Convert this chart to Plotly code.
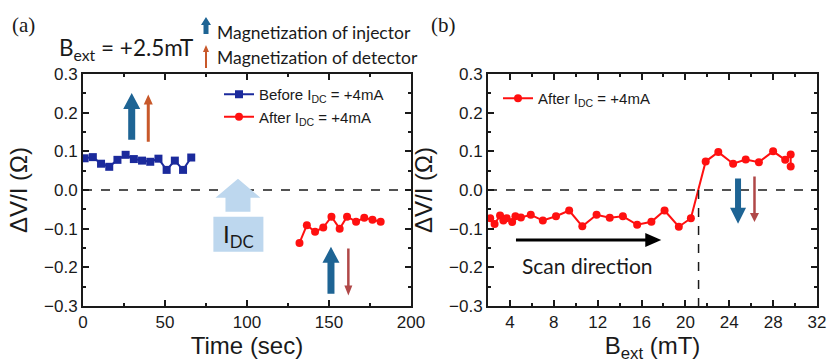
import math
import plotly.graph_objects as go

# ---------------- data ----------------
time_before = [1, 6, 11, 16, 21, 26, 31, 36, 41, 46, 51, 56, 61, 66]
dv_before = [0.082, 0.085, 0.068, 0.060, 0.078, 0.091, 0.080, 0.076, 0.073, 0.081, 0.052, 0.076, 0.052, 0.084]

time_after = [132, 136.5, 141.5, 146.5, 151.5, 156.5, 161, 166.5, 171.5, 176.5, 181.5]
dv_after = [-0.137, -0.091, -0.108, -0.097, -0.069, -0.100, -0.069, -0.082, -0.072, -0.077, -0.082]

b_scan = [2.2, 2.6, 3.1, 3.4, 3.7, 4.2, 4.5, 5.0, 5.9, 7.0, 8.2, 9.4, 10.6, 11.9, 13.1, 14.3,
          15.6, 16.9, 18.1, 19.4, 20.5, 21.85, 23.0, 24.35, 25.5, 26.7, 28.0, 29.1, 29.6, 29.6]
dv_scan = [-0.073, -0.088, -0.066, -0.079, -0.073, -0.083, -0.068, -0.071, -0.064, -0.079, -0.068,
           -0.053, -0.094, -0.064, -0.072, -0.068, -0.090, -0.082, -0.053, -0.095, -0.073,
           0.074, 0.098, 0.068, 0.079, 0.072, 0.100, 0.078, 0.092, 0.061]

switch_field = 21.2

# ---------------- layout geometry ----------------
W, H = 828, 364
xdom1 = [83 / W, 411 / W]
xdom2 = [488 / W, 817 / W]
ydom = [1 - 306 / H, 1 - 74 / H]
xr1, xr2, yr = [0, 200], [2, 32], [-0.3, 0.3]

# data units per pixel
sx1 = (xr1[1] - xr1[0]) / ((xdom1[1] - xdom1[0]) * W)
sx2 = (xr2[1] - xr2[0]) / ((xdom2[1] - xdom2[0]) * W)
sy = (yr[1] - yr[0]) / ((ydom[1] - ydom[0]) * H)

BLUE_S = "#1b2a9c"
RED_S = "#ff1010"
ARROW_BLUE = "#1e6494"
ARROW_ORANGE = "#c8582a"
ARROW_RED = "#b04848"
LIGHT = "#bdd7ee"
INK = "#1a1a1a"
ARIAL = "Liberation Sans, Arial, sans-serif"
CALIBRI = "Lato, Carlito, sans-serif"


def arrow_path(x0, y0, x1, y1, shaft, head_w, head_len, ux_, uy_):
    X0, Y0, X1, Y1 = x0 / ux_, y0 / uy_, x1 / ux_, y1 / uy_
    dx, dy = X1 - X0, Y1 - Y0
    L = math.hypot(dx, dy)
    ux, uy = dx / L, dy / L
    nx, ny = -uy, ux
    bx, by = X1 - ux * head_len, Y1 - uy * head_len
    pts = [
        (X0 + nx * shaft / 2, Y0 + ny * shaft / 2),
        (bx + nx * shaft / 2, by + ny * shaft / 2),
        (bx + nx * head_w / 2, by + ny * head_w / 2),
        (X1, Y1),
        (bx - nx * head_w / 2, by - ny * head_w / 2),
        (bx - nx * shaft / 2, by - ny * shaft / 2),
        (X0 - nx * shaft / 2, Y0 - ny * shaft / 2),
    ]
    return "M " + " L ".join(f"{px * ux_:.6f},{py * uy_:.6f}" for px, py in pts) + " Z"


def arrow_shape(x0, y0, x1, y1, shaft, head_w, head_len, color, xref, yref, ux_, uy_):
    return dict(type="path", xref=xref, yref=yref,
                path=arrow_path(x0, y0, x1, y1, shaft, head_w, head_len, ux_, uy_),
                fillcolor=color, line=dict(width=0), layer="above")


fig = go.Figure()
fig.add_trace(go.Scatter(
    x=time_before, y=dv_before, mode="lines+markers",
    name="Before I<sub>DC</sub> = +4mA",
    line=dict(color=BLUE_S, width=2), marker=dict(symbol="square", size=8, color=BLUE_S),
    xaxis="x", yaxis="y", legend="legend"))
fig.add_trace(go.Scatter(
    x=time_after, y=dv_after, mode="lines+markers",
    name="After I<sub>DC</sub> = +4mA",
    line=dict(color=RED_S, width=2), marker=dict(symbol="circle", size=8, color=RED_S),
    xaxis="x", yaxis="y", legend="legend"))
fig.add_trace(go.Scatter(
    x=b_scan, y=dv_scan, mode="lines+markers",
    name="After I<sub>DC</sub> = +4mA",
    line=dict(color=RED_S, width=2), marker=dict(symbol="circle", size=8, color=RED_S),
    xaxis="x2", yaxis="y2", legend="legend2"))


def axis(**kw):
    d = dict(showline=True, linecolor=INK, linewidth=2, mirror="ticks",
             ticks="inside", ticklen=6, tickwidth=1.5, tickcolor=INK,
             showgrid=False, zeroline=False, automargin=False,
             tickfont=dict(family=ARIAL, size=17, color=INK),
             title_font=dict(family=ARIAL, size=24, color=INK))
    d.update(kw)
    return d


fig.update_layout(
    width=W, height=H, template="none",
    margin=dict(l=0, r=0, t=0, b=0),
    paper_bgcolor="white", plot_bgcolor="white",
    xaxis=axis(domain=xdom1, range=xr1, tick0=0, dtick=50,
               minor=dict(ticks="inside", ticklen=3, tickwidth=1.5, tickcolor=INK, dtick=25),
               title=dict(text="Time (sec)", standoff=6), anchor="y"),
    yaxis=axis(domain=ydom, range=yr, tick0=0, dtick=0.1, tickformat=".1f",
               minor=dict(ticks="inside", ticklen=3, tickwidth=1.5, tickcolor=INK, dtick=0.05),
               title=dict(text="ΔV/I (Ω)", standoff=10), anchor="x"),
    xaxis2=axis(domain=xdom2, range=xr2, tick0=0, dtick=4,
                minor=dict(ticks="inside", ticklen=3, tickwidth=1.5, tickcolor=INK, dtick=2),
                title=dict(text="B<sub>ext</sub> (mT)", standoff=6), anchor="y2"),
    yaxis2=axis(domain=ydom, range=yr, tick0=0, dtick=0.1, tickformat=".1f",
                minor=dict(ticks="inside", ticklen=3, tickwidth=1.5, tickcolor=INK, dtick=0.05),
                title=dict(text="ΔV/I (Ω)", standoff=10), anchor="x2"),
    legend=dict(x=219 / W, y=1 - 78 / H, xanchor="left", yanchor="top",
                bgcolor="rgba(0,0,0,0)", font=dict(family=ARIAL, size=15, color=INK),
                tracegroupgap=0),
    legend2=dict(x=498 / W, y=1 - 82 / H, xanchor="left", yanchor="top",
                 bgcolor="rgba(0,0,0,0)", font=dict(family=ARIAL, size=15, color=INK)),
    showlegend=True,
)

shapes = []
# zero lines
shapes.append(dict(type="line", xref="x domain", yref="y", x0=0, x1=1, y0=0, y1=0,
                   line=dict(color=INK, width=1.5, dash="dash"), layer="above"))
shapes.append(dict(type="line", xref="x2 domain", yref="y2", x0=0, x1=1, y0=0, y1=0,
                   line=dict(color=INK, width=1.5, dash="dash"), layer="above"))
shapes.append(dict(type="line", xref="x2", yref="y2", x0=switch_field, x1=switch_field, y0=0, y1=-0.3,
                   line=dict(color=INK, width=1.5, dash="dash"), layer="above"))
# I_DC box and arrow
shapes.append(dict(type="rect", xref="x", yref="y", x0=79.5, x1=110, y0=-0.069, y1=-0.160,
                   fillcolor=LIGHT, line=dict(width=0), layer="above"))
shapes.append(arrow_shape(94.5, -0.056, 94.5, 0.029, 25, 45, 19, LIGHT, "x", "y", sx1, sy))
# left panel magnetization arrows
shapes.append(arrow_shape(29.7, 0.130, 29.7, 0.251, 7, 17, 16, ARROW_BLUE, "x", "y", sx1, sy))
shapes.append(arrow_shape(39.8, 0.125, 39.8, 0.247, 3, 9, 10, ARROW_ORANGE, "x", "y", sx1, sy))
shapes.append(arrow_shape(151.2, -0.268, 151.2, -0.147, 7, 17, 16, ARROW_BLUE, "x", "y", sx1, sy))
shapes.append(arrow_shape(161.8, -0.151, 161.8, -0.273, 2.5, 8, 10, ARROW_RED, "x", "y", sx1, sy))
# right panel arrows
shapes.append(arrow_shape(24.8, 0.030, 24.8, -0.087, 6, 16, 16, ARROW_BLUE, "x2", "y2", sx2, sy))
shapes.append(arrow_shape(26.3, 0.035, 26.3, -0.083, 2.5, 9, 9, ARROW_RED, "x2", "y2", sx2, sy))
shapes.append(arrow_shape(4.55, -0.129, 17.8, -0.129, 3, 14, 16, "black", "x2", "y2", sx2, sy))
# header legend arrows (paper coords)
shapes.append(arrow_shape(206 / W, 1 - 34 / H, 206 / W, 1 - 17 / H, 5, 10, 8, ARROW_BLUE,
                          "paper", "paper", 1 / W, 1 / H))
shapes.append(arrow_shape(206 / W, 1 - 68 / H, 206 / W, 1 - 45 / H, 2, 6, 7, ARROW_ORANGE,
                          "paper", "paper", 1 / W, 1 / H))
fig.update_layout(shapes=shapes)

ann = [
    dict(text="(a)", x=23 / W, y=1 - 25 / H, font=dict(family="Liberation Serif, serif", size=21, color=INK)),
    dict(text="(b)", x=443 / W, y=1 - 25 / H, font=dict(family="Liberation Serif, serif", size=21, color=INK)),
    dict(text="B<sub>ext</sub> = +2.5mT", x=126 / W, y=1 - 49 / H, font=dict(family=CALIBRI, size=22.5, color=INK)),
    dict(text="Magnetization of injector", x=215 / W, y=1 - 32 / H, xanchor="left",
         font=dict(family=CALIBRI, size=17.5, color=INK)),
    dict(text="Magnetization of detector", x=215 / W, y=1 - 57 / H, xanchor="left",
         font=dict(family=CALIBRI, size=17.5, color=INK)),
]
for a in ann:
    a.setdefault("xanchor", "center")
    a.update(xref="paper", yref="paper", yanchor="middle", showarrow=False)
fig.update_layout(annotations=ann)
fig.add_annotation(text="I<sub>DC</sub>", x=94.75, y=-0.117, xref="x", yref="y", showarrow=False,
                   font=dict(family=CALIBRI, size=24, color=INK))
fig.add_annotation(text="Scan direction", x=11.1, y=-0.194, xref="x2", yref="y2", showarrow=False,
                   font=dict(family=CALIBRI, size=21, color=INK))

fig.write_html("out.html", config={"displayModeBar": False},
               post_script="document.body.style.margin='0';document.body.style.overflow='hidden';")
